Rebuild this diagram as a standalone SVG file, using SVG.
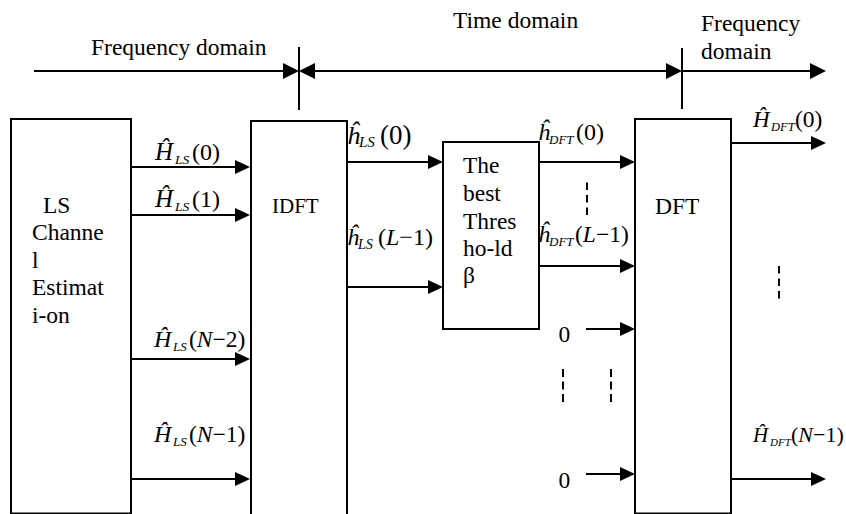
<svg xmlns="http://www.w3.org/2000/svg" width="846" height="514" viewBox="0 0 846 514">
  <style>
    .t { font-family: "Liberation Serif", "Times New Roman", serif; font-size: 23.5px; fill: #000; }
    .i { font-style: italic; }
    .box { fill: #fff; stroke: #000; stroke-width: 2; }
    .ln { stroke: #000; stroke-width: 2; fill: none; }
    .arr { marker-end: url(#ah); }
    .ax { marker-end: url(#ahT); }
    .ax2 { marker-start: url(#ahT); marker-end: url(#ahT); }
    .dots { stroke: #000; stroke-width: 2; fill: none; stroke-dasharray: 7.5 5; }
    .dots0 { stroke: #000; stroke-width: 2; fill: none; stroke-dasharray: 8 4.5; }
  </style>
  <defs>
    <marker id="ah" markerUnits="userSpaceOnUse" viewBox="0 0 15 14" markerWidth="15" markerHeight="14" refX="11" refY="7" orient="auto">
      <path d="M0,0 L15,7 L0,14 Z" fill="#000"/>
    </marker>
    <marker id="ahT" markerUnits="userSpaceOnUse" viewBox="0 0 16 16" markerWidth="16" markerHeight="16" refX="12" refY="8" orient="auto-start-reverse">
      <path d="M0,0 L16,8 L0,16 Z" fill="#000"/>
    </marker>
  </defs>

  <rect width="846" height="514" fill="#fff"/>

  <!-- domain axis along the top -->
  <g id="domains">
    <line class="ln ax" x1="34" y1="71" x2="295" y2="71"/>
    <line class="ln ax2" x1="303" y1="71" x2="678" y2="71"/>
    <line class="ln ax" x1="682" y1="71" x2="822" y2="71"/>
    <line class="ln" x1="299" y1="47" x2="299" y2="110"/>
    <line class="ln" x1="682" y1="48" x2="682" y2="109"/>
    <text class="t" x="91" y="55">Frequency domain</text>
    <text class="t" x="453" y="28">Time domain</text>
    <text class="t" x="701" y="31">Frequency</text>
    <text class="t" x="701" y="59">domain</text>
  </g>

  <!-- processing blocks -->
  <g id="ls">
    <rect class="box" x="11" y="119" width="120" height="394.5"/>
    <text class="t" x="43" y="212.5">LS</text>
    <text class="t" x="32" y="240">Channe</text>
    <text class="t" x="32" y="267.5">l</text>
    <text class="t" x="32" y="295">Estimat</text>
    <text class="t" x="32" y="323">i-on</text>
  </g>
  <g id="idft">
    <rect class="box" x="251" y="121" width="96" height="400"/>
    <text class="t" x="272" y="212.5" style="font-size:21px">IDFT</text>
  </g>
  <g id="threshold">
    <rect class="box" x="443" y="142" width="96" height="187"/>
    <text class="t" x="463" y="173">The</text>
    <text class="t" x="463" y="201">best</text>
    <text class="t" x="463" y="228.5">Thres</text>
    <text class="t" x="463" y="256">ho-ld</text>
    <text class="t" x="463" y="283">β</text>
  </g>
  <g id="dft">
    <rect class="box" x="635" y="119" width="96" height="394.5"/>
    <text class="t" x="655" y="214">DFT</text>
  </g>

  <!-- signal connectors -->
  <g id="connectors">
    <line class="ln arr" x1="131" y1="167" x2="246" y2="167"/>
    <line class="ln arr" x1="131" y1="215" x2="246" y2="215"/>
    <line class="ln arr" x1="131" y1="359" x2="246" y2="359"/>
    <line class="ln arr" x1="131" y1="479" x2="246" y2="479"/>
    <line class="ln arr" x1="347" y1="162" x2="439" y2="162"/>
    <line class="ln arr" x1="347" y1="287" x2="439" y2="287"/>
    <line class="ln arr" x1="539" y1="162" x2="631" y2="162"/>
    <line class="ln arr" x1="539" y1="266" x2="631" y2="266"/>
    <line class="ln arr" x1="586" y1="329" x2="631" y2="329"/>
    <line class="ln arr" x1="586" y1="474" x2="631" y2="474"/>
    <line class="ln arr" x1="731" y1="143" x2="822" y2="143"/>
    <line class="ln arr" x1="731" y1="479" x2="822" y2="479"/>
    <!-- omitted-sample ellipses -->
    <line class="dots" x1="587" y1="182.5" x2="587" y2="218"/>
    <line class="dots" x1="779" y1="266" x2="779" y2="301"/>
    <line class="dots0" x1="563" y1="369" x2="563" y2="405"/>
    <line class="dots0" x1="611" y1="369" x2="611" y2="405"/>
  </g>

  <!-- connector labels -->
  <g id="labels">
    <text class="t" y="159.5"><tspan class="i" x="155" style="font-size:25px">Ĥ</tspan><tspan class="i" x="175" y="163.5" style="font-size:13.5px">LS</tspan><tspan x="192" y="159.5" style="font-size:24px">(0)</tspan></text>
    <text class="t" y="206.5"><tspan class="i" x="155" style="font-size:25px">Ĥ</tspan><tspan class="i" x="175" y="210.5" style="font-size:13.5px">LS</tspan><tspan x="192" y="206.5" style="font-size:24px">(1)</tspan></text>
    <text class="t" y="347"><tspan class="i" x="154" style="font-size:24px">Ĥ</tspan><tspan class="i" x="173" y="351" style="font-size:13px">LS</tspan><tspan x="189" y="347">(</tspan><tspan class="i">N</tspan><tspan>−2)</tspan></text>
    <text class="t" y="442"><tspan class="i" x="154" style="font-size:24px">Ĥ</tspan><tspan class="i" x="173" y="446" style="font-size:13px">LS</tspan><tspan x="189" y="442">(</tspan><tspan class="i">N</tspan><tspan>−1)</tspan></text>

    <text class="t" y="143.5"><tspan class="i" x="347" style="font-size:26px">ĥ</tspan><tspan class="i" x="359" y="147" style="font-size:15px">LS</tspan><tspan x="380" y="143.5" style="font-size:27px">(0)</tspan></text>
    <text class="t" y="245"><tspan class="i" x="347" style="font-size:24px">ĥ</tspan><tspan class="i" x="358" y="249" style="font-size:14px">LS</tspan><tspan x="378" y="245" style="font-size:24px">(</tspan><tspan class="i" style="font-size:24px">L</tspan><tspan style="font-size:24px">−1)</tspan></text>

    <text class="t" y="140"><tspan class="i" x="538" style="font-size:24px">ĥ</tspan><tspan class="i" x="549" y="144" style="font-size:13px">DFT</tspan><tspan x="576" y="140" style="font-size:24px">(0)</tspan></text>
    <text class="t" y="242"><tspan class="i" x="538" style="font-size:24px">ĥ</tspan><tspan class="i" x="549" y="246" style="font-size:13px">DFT</tspan><tspan x="575" y="242">(</tspan><tspan class="i">L</tspan><tspan>−1)</tspan></text>

    <text class="t" y="127"><tspan class="i" x="753" style="font-size:23px">Ĥ</tspan><tspan class="i" x="771" y="131" style="font-size:12.5px">DFT</tspan><tspan x="795" y="127">(0)</tspan></text>
    <text class="t" y="442"><tspan class="i" x="753" style="font-size:21px">Ĥ</tspan><tspan class="i" x="770" y="446" style="font-size:11px">DFT</tspan><tspan x="791" y="442" style="font-size:22px">(</tspan><tspan class="i" style="font-size:22px">N</tspan><tspan style="font-size:22px">−1)</tspan></text>

    <text class="t" x="558.5" y="341.5">0</text>
    <text class="t" x="558.5" y="488">0</text>
  </g>
</svg>
